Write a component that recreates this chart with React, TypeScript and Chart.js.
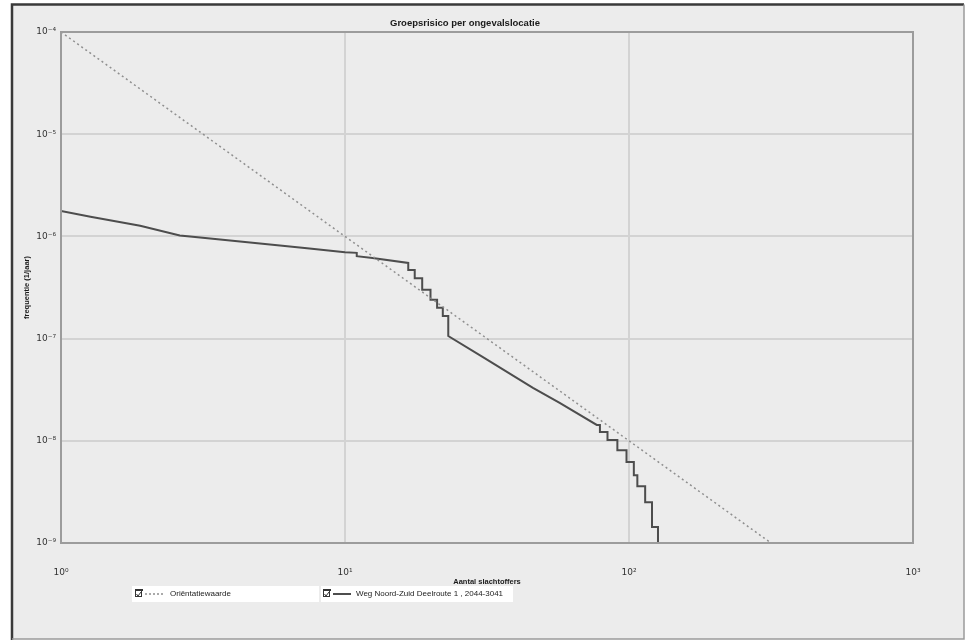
import React, { useEffect, useRef } from 'react';
import { Chart, registerables } from 'chart.js';

Chart.register(...registerables);

const chartTitle = 'Groepsrisico per ongevalslocatie';
const xAxisTitle = 'Aantal slachtoffers';
const yAxisTitle = 'frequentie (1/jaar)';
const xTicks = [1, 10, 100, 1000];
const yTicks = [1e-9, 1e-8, 1e-7, 1e-6, 1e-5, 1e-4];

const guideLabel = 'Oriëntatiewaarde';
const guideN = [1, 316.2];
const guideF = [1e-4, 1e-9];

const routeLabel = 'Weg Noord-Zuid Deelroute 1 , 2044-3041';
const routeN = [
  1, 1.27, 1.9, 2.62, 3.09, 4.27, 5.9, 7.35, 10, 11, 11, 12.5, 16.7, 16.7, 17.6, 17.6, 18.7,
  18.7, 20, 20, 21.1, 21.1, 22.1, 22.1, 23.1, 23.1, 30.6, 45.9, 57, 77, 79, 79, 84, 84, 91,
  91, 98, 98, 104, 104, 107, 107, 114, 114, 120.5, 120.5, 126.5, 126.5,
];
const routeF = [
  1.77e-6, 1.56e-6, 1.27e-6, 1.02e-6, 9.75e-7, 8.9e-7, 8.15e-7, 7.65e-7, 7.0e-7, 6.9e-7,
  6.4e-7, 6.15e-7, 5.5e-7, 4.7e-7, 4.7e-7, 3.9e-7, 3.9e-7, 3.0e-7, 3.0e-7, 2.4e-7, 2.4e-7,
  2.0e-7, 2.0e-7, 1.66e-7, 1.66e-7, 1.06e-7, 6.6e-8, 3.3e-8, 2.35e-8, 1.43e-8, 1.43e-8,
  1.22e-8, 1.22e-8, 1.02e-8, 1.02e-8, 8.1e-9, 8.1e-9, 6.2e-9, 6.2e-9, 4.6e-9, 4.6e-9,
  3.6e-9, 3.6e-9, 2.5e-9, 2.5e-9, 1.43e-9, 1.43e-9, 1e-9,
];

const SUP: Record<string, string> = {
  '-': '⁻', '0': '⁰', '1': '¹', '2': '²', '3': '³', '4': '⁴',
  '5': '⁵', '6': '⁶', '7': '⁷', '8': '⁸', '9': '⁹',
};
const powLabel = (v: number) => {
  const e = String(Math.round(Math.log10(v)));
  return '10' + e.split('').map((c) => SUP[c] || c).join('');
};

const GUIDE_COLOR = '#8f8f8f';
const ROUTE_COLOR = '#4d4d4d';

const decorPlugin = {
  id: 'decor',
  beforeDraw(chart: any) {
    const { ctx, width, height } = chart;
    ctx.save();
    ctx.fillStyle = '#ffffff';
    ctx.fillRect(0, 0, width, height);
    ctx.fillStyle = '#ececec';
    ctx.fillRect(12, 5, 952, 634);
    ctx.restore();
  },
  afterDraw(chart: any) {
    const { ctx, chartArea } = chart;
    ctx.save();
    // frame
    ctx.strokeStyle = '#3a3a3a';
    ctx.lineWidth = 2.5;
    ctx.beginPath();
    ctx.moveTo(12, 640);
    ctx.lineTo(12, 4.5);
    ctx.lineTo(964, 4.5);
    ctx.stroke();
    ctx.strokeStyle = '#9a9a9a';
    ctx.lineWidth = 1.5;
    ctx.beginPath();
    ctx.moveTo(964, 4.5);
    ctx.lineTo(964, 639);
    ctx.lineTo(12, 639);
    ctx.stroke();
    // plot border
    ctx.strokeStyle = '#9c9c9c';
    ctx.lineWidth = 2;
    ctx.strokeRect(chartArea.left, chartArea.top, chartArea.right - chartArea.left, chartArea.bottom - chartArea.top);
    // title
    ctx.fillStyle = '#1a1a1a';
    ctx.font = 'bold 9.5px "Liberation Sans", Arial, sans-serif';
    ctx.textAlign = 'center';
    ctx.textBaseline = 'middle';
    ctx.fillText(chartTitle, 465, 23);
    // legend
    const ly = 594;
    ctx.fillStyle = '#ffffff';
    ctx.fillRect(132, 586, 187, 16);
    ctx.fillRect(321, 586, 192, 16);
    const items = [
      { x: 135, label: guideLabel, dash: [2, 2], color: GUIDE_COLOR, sw: 1.5, len: 20 },
      { x: 323, label: routeLabel, dash: [], color: ROUTE_COLOR, sw: 2, len: 18 },
    ];
    items.forEach((it) => {
      ctx.setLineDash([]);
      ctx.strokeStyle = '#333';
      ctx.lineWidth = 1;
      ctx.strokeRect(it.x + 0.5, ly - 3.5, 6, 6);
      ctx.fillStyle = '#333';
      ctx.fillRect(it.x, ly - 5, 8, 2);
      ctx.beginPath();
      ctx.moveTo(it.x + 1.5, ly);
      ctx.lineTo(it.x + 3, ly + 2);
      ctx.lineTo(it.x + 6, ly - 2);
      ctx.stroke();
      ctx.strokeStyle = it.color;
      ctx.lineWidth = it.sw;
      ctx.setLineDash(it.dash);
      ctx.beginPath();
      ctx.moveTo(it.x + 10, ly);
      ctx.lineTo(it.x + 10 + it.len, ly);
      ctx.stroke();
      ctx.setLineDash([]);
      ctx.fillStyle = '#222';
      ctx.font = '8px "Liberation Sans", Arial, sans-serif';
      ctx.textAlign = 'left';
      ctx.textBaseline = 'middle';
      ctx.fillText(it.label, it.x + 10 + it.len + 5, ly);
    });
    ctx.restore();
  },
};

export default function App() {
  const ref = useRef<HTMLCanvasElement>(null);
  useEffect(() => {
    document.body.style.margin = '0';
    const canvas = ref.current!;
    const chart = new Chart(canvas, {
      type: 'line',
      data: {
        datasets: [
          {
            label: guideLabel,
            data: guideN.map((n, i) => ({ x: n, y: guideF[i] })),
            borderColor: GUIDE_COLOR,
            borderWidth: 1.5,
            borderDash: [2, 3],
            pointRadius: 0,
            tension: 0,
          },
          {
            label: routeLabel,
            data: routeN.map((n, i) => ({ x: n, y: routeF[i] })),
            borderColor: ROUTE_COLOR,
            borderWidth: 2,
            pointRadius: 0,
            tension: 0,
          },
        ],
      },
      options: {
        animation: false,
        responsive: false,
        devicePixelRatio: 1,
        layout: { padding: { left: 0, top: 32, right: 56, bottom: 0 } },
        plugins: { legend: { display: false }, title: { display: false }, tooltip: { enabled: false } },
        scales: {
          x: {
            type: 'logarithmic',
            min: 1,
            max: 1000,
            afterBuildTicks: (s: any) => { s.ticks = xTicks.map((v) => ({ value: v })); },
            afterFit: (s: any) => { s.height = 99; },
            grid: { color: '#d3d3d3', lineWidth: 2, drawTicks: false },
            border: { color: '#9c9c9c', width: 2 },
            ticks: {
              padding: 24,
              color: '#333',
              font: { size: 9, family: '"DejaVu Sans", sans-serif' },
              maxRotation: 0,
              autoSkip: false,
              callback: (v: any) => powLabel(Number(v)),
            },
            title: {
              display: true,
              text: xAxisTitle,
              color: '#1a1a1a',
              font: { size: 7.5, weight: 'bold', family: '"Liberation Sans", Arial, sans-serif' },
              padding: { top: 0, bottom: 56 },
            },
          },
          y: {
            type: 'logarithmic',
            min: 1e-9,
            max: 1e-4,
            afterBuildTicks: (s: any) => { s.ticks = yTicks.map((v) => ({ value: v })); },
            afterFit: (s: any) => { s.width = 61; },
            grid: { color: '#d3d3d3', lineWidth: 2, drawTicks: false },
            border: { color: '#9c9c9c', width: 2 },
            ticks: {
              padding: 5,
              color: '#333',
              font: { size: 9, family: '"DejaVu Sans", sans-serif' },
              autoSkip: false,
              callback: (v: any) => powLabel(Number(v)),
            },
            title: {
              display: true,
              text: yAxisTitle,
              color: '#1a1a1a',
              font: { size: 7.5, weight: 'bold', family: '"Liberation Sans", Arial, sans-serif' },
              padding: { top: 22, bottom: 0 },
            },
          },
        },
      },
      plugins: [decorPlugin],
    } as any);
    return () => chart.destroy();
  }, []);
  return (
    <div style={{ width: 969, height: 642 }}>
      <canvas ref={ref} width={969} height={642} style={{ display: 'block' }} />
    </div>
  );
}
